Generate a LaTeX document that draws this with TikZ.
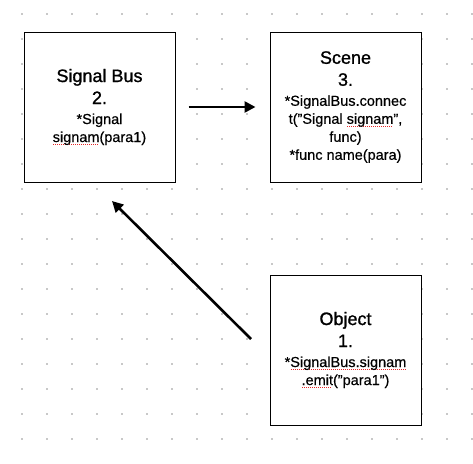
\documentclass[tikz,border=0pt]{standalone}
\usepackage{fontspec}
\setmainfont{Liberation Sans}[FakeBold=0.5]
\newfontfamily\headfont{Liberation Sans}[FakeBold=1.1]
\usetikzlibrary{arrows.meta,positioning}
\definecolor{dotgray}{RGB}{200,200,200}
\definecolor{spellred}{RGB}{230,40,40}
\newcommand{\titlef}{\headfont\fontsize{18}{22}\selectfont}
\newcommand{\bodyf}{\rmfamily\fontsize{14.5}{18}\selectfont}
% red dotted spell-check mark under a word
\newcommand{\spellchk}[1]{\setbox0=\hbox{#1}\rlap{\raisebox{-3pt}[0pt][0pt]{\color{spellred}\hbox to \wd0{\leaders\hbox to 2pt{\hss\rule{1pt}{0.9pt}\hss}\hfill}}}\box0}

\begin{document}
\begin{tikzpicture}[x=1pt,y=-1pt, >={Triangle[length=11pt,width=11pt]},
  block/.style={draw,line width=1pt,fill=white,minimum width=151pt,minimum height=150pt,
    align=center,inner sep=2pt,font=\bodyf},
  link/.style={->,line width=2.6pt}]
\useasboundingbox (0,0) rectangle (473,463);
\fill[white] (0,0) rectangle (473,463);
% dot grid
\foreach \i in {0,...,18}
  \foreach \j in {0,...,17}
    \fill[dotgray] (22+25*\i-1,14+25*\j-1) rectangle ++(2,2);

\node[block] (bus)   at (99.5,107)  {\titlef Signal Bus\\[4pt]\titlef 2.\\[2pt]\bodyf *Signal\\\bodyf \spellchk{signam}(para1)};
\node[block] (scene) at (345.5,107) {\titlef Scene\\[4pt]\titlef 3.\\[2pt]\bodyf *SignalBus.connec\\\bodyf t("Signal \spellchk{signam}",\\\bodyf func)\\\bodyf *func name(para)};
\node[block] (obj)   at (345.5,350) {\titlef Object\\[4pt]\titlef 1.\\[2pt]\bodyf *\spellchk{SignalBus.signam}\\\bodyf \spellchk{.emit}("para1")};

\coordinate (emitfrom) at (251,339);
\coordinate (emitto)   at (112,201);

\draw[link] ([xshift=13pt]bus.east) -- ([xshift=-14pt]scene.west);
\draw[link] (emitfrom) -- (emitto);
\end{tikzpicture}
\end{document}
